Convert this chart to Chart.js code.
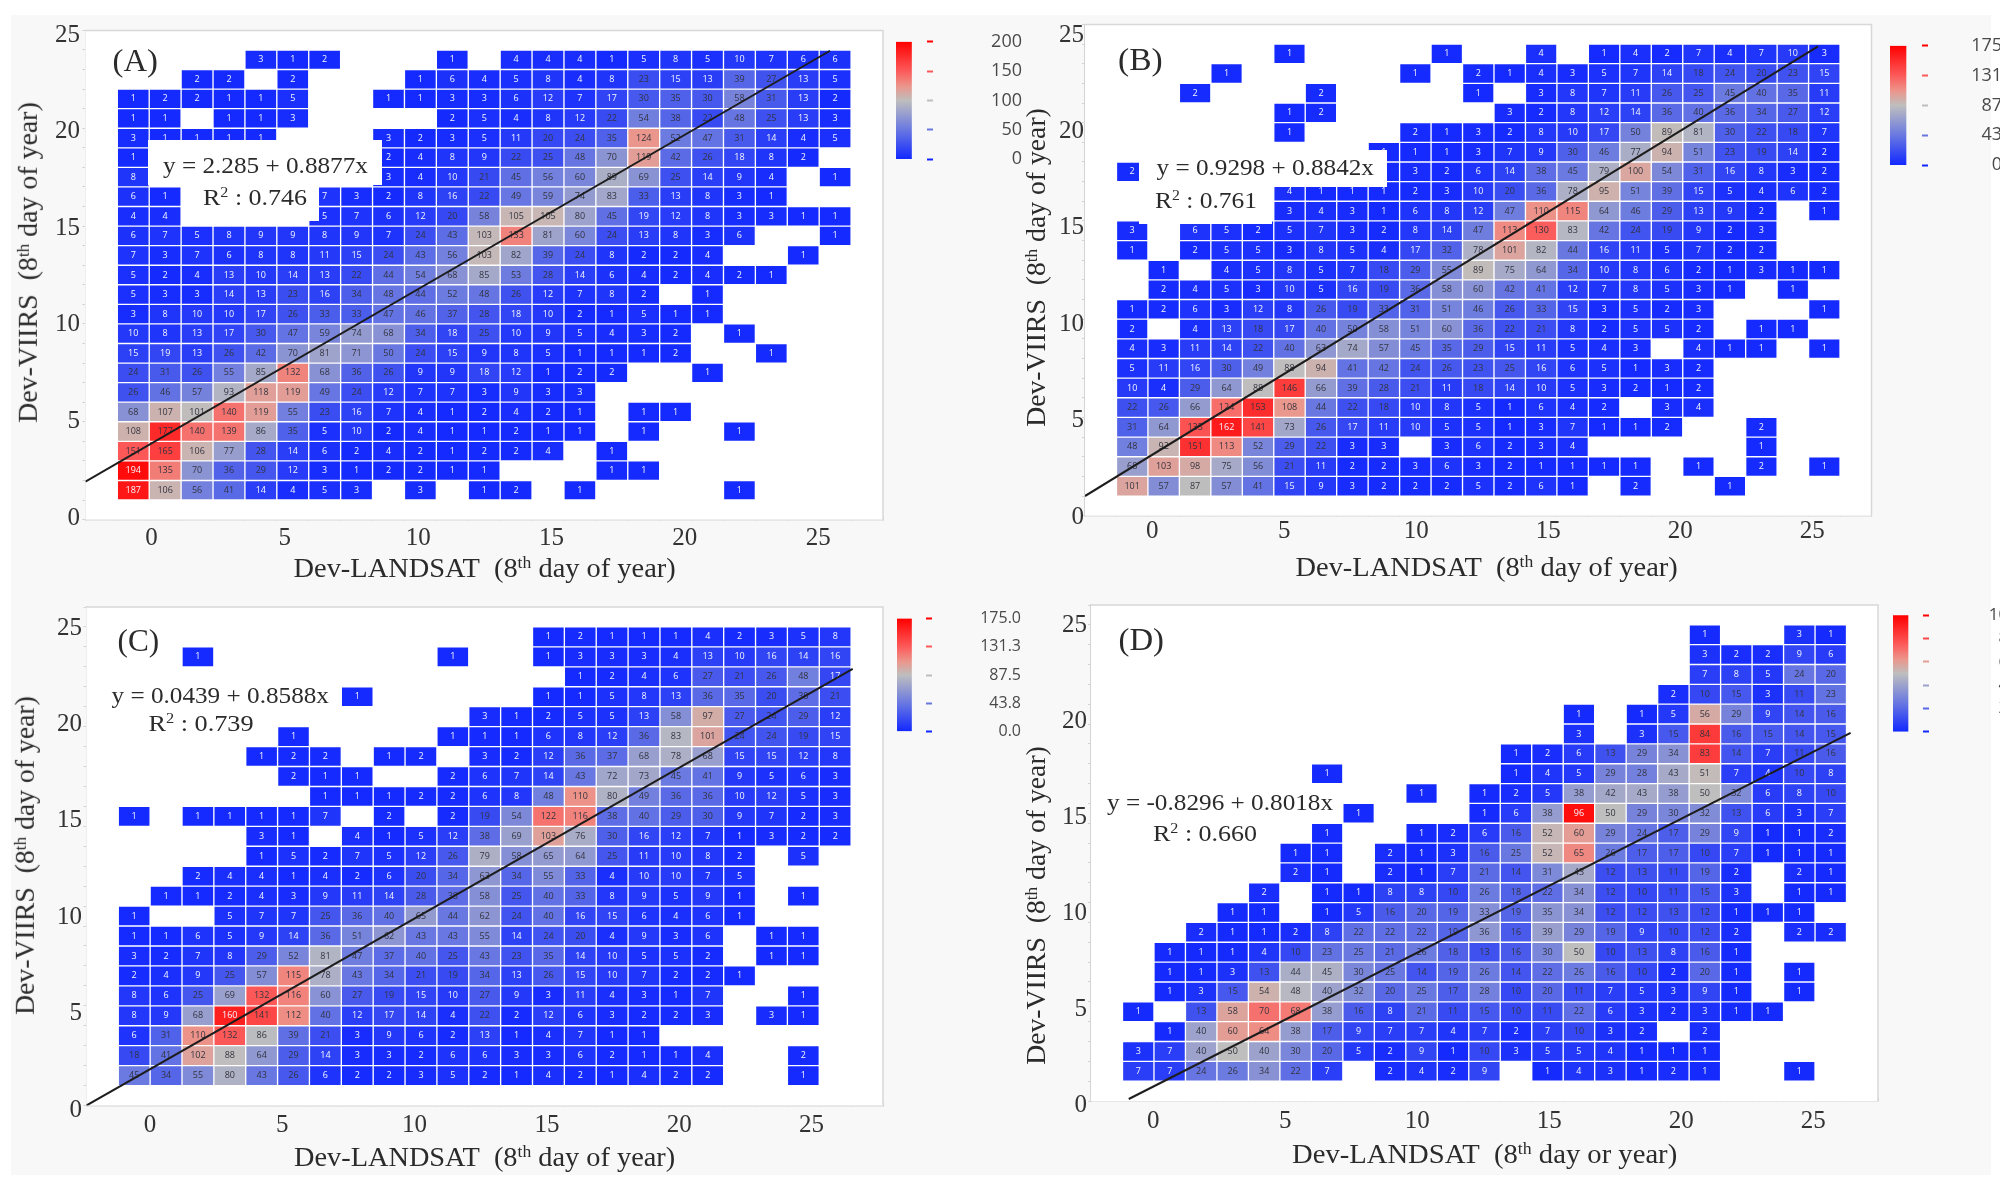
<!DOCTYPE html>
<html><head><meta charset="utf-8">
<script src="https://cdn.jsdelivr.net/npm/chart.js@4"></script>
<style>
html,body{margin:0;padding:0;background:#fff;width:2000px;height:1191px;overflow:hidden}
#page{position:absolute;left:0;top:0;width:2000px;height:1191px;filter:blur(.55px)}
#bg{position:absolute;left:11px;top:15px;width:1980px;height:1160px;background:#f8f8f8}
canvas{position:absolute}
.t{position:absolute;white-space:nowrap;font-family:"Liberation Serif",serif;color:#2b2b2b;line-height:1;transform-origin:center}
.t sup{font-size:.62em;line-height:0;vertical-align:baseline;position:relative;top:-.5em}
.m{position:absolute;background:#fff}
</style></head><body><div id="page"><div id="bg"></div></div>
<script>
// rows run from the top row of the grid (23-24) to the bottom row (1-2); columns from 1-2 to 23-24; 0 = empty cell
const cellsA = [
[0,0,0,0,3,1,2,0,0,0,1,0,4,4,4,1,5,8,5,10,7,6,6],
[0,0,2,2,0,2,0,0,0,1,6,4,5,8,4,8,23,15,13,39,27,13,5],
[1,2,2,1,1,5,0,0,1,1,3,3,6,12,7,17,30,35,30,58,31,13,2],
[1,1,0,1,1,3,0,0,0,0,2,5,4,8,12,22,54,38,22,48,25,13,3],
[3,1,1,1,1,0,0,0,3,2,3,5,11,20,24,35,124,52,47,31,14,4,5],
[1,0,0,0,0,0,0,0,2,4,8,9,22,25,48,70,119,42,26,18,8,2,0],
[8,0,0,0,0,0,0,0,3,4,10,21,45,56,60,89,69,25,14,9,4,0,1],
[6,1,0,0,0,0,7,3,2,8,16,22,49,59,74,83,33,13,8,3,1,0,0],
[4,4,0,0,0,0,5,7,6,12,20,58,105,105,80,45,19,12,8,3,3,1,1],
[6,7,5,8,9,9,8,9,7,24,43,103,133,81,60,24,13,8,3,6,0,0,1],
[7,3,7,6,8,8,11,15,24,43,56,103,82,39,24,8,2,2,4,0,0,1,0],
[5,2,4,13,10,14,13,22,44,54,68,85,53,28,14,6,4,2,4,2,1,0,0],
[5,3,3,14,13,23,16,34,48,44,52,48,26,12,7,8,2,0,1,0,0,0,0],
[3,8,10,10,17,26,33,33,47,46,37,28,18,10,2,1,5,1,1,0,0,0,0],
[10,8,13,17,30,47,59,74,68,34,18,25,10,9,5,4,3,2,0,1,0,0,0],
[15,19,13,26,42,70,81,71,50,24,15,9,8,5,1,1,1,2,0,0,1,0,0],
[24,31,26,55,85,132,68,36,26,9,9,18,12,1,2,2,0,0,1,0,0,0,0],
[26,46,57,93,118,119,49,24,12,7,7,3,9,3,3,0,0,0,0,0,0,0,0],
[68,107,101,140,119,55,23,16,7,4,1,2,4,2,1,0,1,1,0,0,0,0,0],
[108,177,140,139,86,35,5,10,2,4,1,1,2,1,1,0,1,0,0,1,0,0,0],
[151,165,106,77,28,14,6,2,4,2,1,2,2,4,0,1,0,0,0,0,0,0,0],
[194,135,70,36,29,12,3,1,2,2,1,1,0,0,0,1,1,0,0,0,0,0,0],
[187,106,56,41,14,4,5,3,0,3,0,1,2,0,1,0,0,0,0,1,0,0,0]];
const cellsB = [
[0,0,0,0,0,1,0,0,0,0,1,0,0,4,0,1,4,2,7,4,7,10,3],
[0,0,0,1,0,0,0,0,0,1,0,2,1,4,3,5,7,14,18,24,20,23,15],
[0,0,2,0,0,0,2,0,0,0,0,1,0,3,8,7,11,26,25,45,40,35,11],
[0,0,0,0,0,1,2,0,0,0,0,0,3,2,8,12,14,36,40,36,34,27,12],
[0,0,0,0,0,1,0,0,0,2,1,3,2,8,10,17,50,89,81,30,22,18,7],
[0,0,0,0,0,0,0,0,1,1,1,3,7,9,30,46,77,94,51,23,19,14,2],
[2,0,0,0,0,0,0,0,1,3,2,6,14,38,45,79,100,54,31,16,8,3,2],
[0,0,0,0,0,4,1,1,1,2,3,10,20,36,78,95,51,39,15,5,4,6,2],
[0,0,0,0,0,3,4,3,1,6,8,12,47,110,115,64,46,29,13,9,2,0,1],
[3,0,6,5,2,5,7,3,2,8,14,47,113,130,83,42,24,19,9,2,3,0,0],
[1,0,2,5,5,3,8,5,4,17,32,78,101,82,44,16,11,5,7,2,2,0,0],
[0,1,0,4,5,8,5,7,18,29,55,89,75,64,34,10,8,6,2,1,3,1,1],
[0,2,4,5,3,10,5,16,19,36,58,60,42,41,12,7,8,5,3,1,0,1,0],
[1,2,6,3,12,8,26,19,33,31,51,46,26,33,15,3,5,2,3,0,0,0,1],
[2,0,4,13,18,17,40,50,58,51,60,36,22,21,8,2,5,5,2,0,1,1,0],
[4,3,11,14,22,40,63,74,57,45,35,29,15,11,5,4,3,0,4,1,1,0,1],
[5,11,16,30,49,88,94,41,42,24,26,23,25,16,6,5,1,3,2,0,0,0,0],
[10,4,29,64,88,146,66,39,28,21,11,18,14,10,5,3,2,1,2,0,0,0,0],
[22,26,66,124,153,108,44,22,18,10,8,5,1,6,4,2,0,3,4,0,0,0,0],
[31,64,135,162,141,73,26,17,11,10,5,5,1,3,7,1,1,2,0,0,2,0,0],
[48,92,151,113,52,29,22,3,3,0,3,6,2,3,4,0,0,0,0,0,1,0,0],
[68,103,98,75,56,21,11,2,2,3,6,3,2,1,1,1,1,0,1,0,2,0,1],
[101,57,87,57,41,15,9,3,2,2,2,5,2,6,1,0,2,0,0,1,0,0,0]];
const cellsC = [
[0,0,0,0,0,0,0,0,0,0,0,0,0,1,2,1,1,1,4,2,3,5,8],
[0,0,1,0,0,0,0,0,0,0,1,0,0,1,3,3,3,4,13,10,16,14,16],
[0,0,0,0,0,0,0,0,0,0,0,0,0,0,1,2,4,6,27,21,26,48,17],
[0,0,0,0,0,0,0,1,0,0,0,0,0,1,1,5,8,13,36,35,20,38,21],
[0,0,0,0,0,0,0,0,0,0,0,3,1,2,5,5,13,58,97,27,24,29,12],
[0,0,0,0,0,1,0,0,0,0,1,1,1,6,8,12,36,83,101,24,24,19,15],
[0,0,0,0,1,2,2,0,1,2,0,3,2,12,36,37,68,78,68,15,15,12,8],
[0,0,0,0,0,2,1,1,0,0,2,6,7,14,43,72,73,45,41,9,5,6,3],
[0,0,0,0,0,0,1,1,1,2,2,6,8,48,110,80,49,36,36,10,12,5,3],
[1,0,1,1,1,1,7,0,2,0,2,19,54,122,116,38,40,29,30,9,7,2,3],
[0,0,0,0,3,1,0,4,1,5,12,38,69,103,76,30,16,12,7,1,3,2,2],
[0,0,0,0,1,5,2,7,5,12,26,79,58,65,64,25,11,10,8,2,0,5,0],
[0,0,2,4,4,1,4,2,6,20,34,63,34,55,33,4,10,10,7,5,0,0,0],
[0,1,1,2,4,3,9,11,14,28,38,58,25,40,33,8,9,5,9,1,0,1,0],
[1,0,0,5,7,7,25,36,40,65,44,62,24,40,16,15,6,4,6,1,0,0,0],
[1,1,6,5,9,14,36,51,62,43,43,55,14,24,20,4,9,3,6,0,1,1,0],
[3,2,7,8,29,52,81,47,37,40,25,43,23,35,14,10,5,5,2,0,1,1,0],
[2,4,9,25,57,115,78,43,34,21,19,34,13,26,15,10,7,2,2,1,0,0,0],
[8,6,25,69,132,116,60,27,19,15,10,27,9,3,11,4,3,1,7,0,0,1,0],
[8,9,68,160,141,112,40,12,17,14,4,22,2,12,6,3,2,2,3,0,3,1,0],
[6,31,110,132,86,39,21,3,9,6,2,13,1,4,7,1,1,0,0,0,0,0,0],
[18,41,102,88,64,29,14,3,3,2,6,6,3,3,6,2,1,1,4,0,0,2,0],
[45,34,55,80,43,26,6,2,2,3,5,2,1,4,2,1,4,2,2,0,0,1,0]];
const cellsD = [
[0,0,0,0,0,0,0,0,0,0,0,0,0,0,0,0,0,0,1,0,0,3,1],
[0,0,0,0,0,0,0,0,0,0,0,0,0,0,0,0,0,0,3,2,2,9,6],
[0,0,0,0,0,0,0,0,0,0,0,0,0,0,0,0,0,0,7,8,5,24,20],
[0,0,0,0,0,0,0,0,0,0,0,0,0,0,0,0,0,2,10,15,3,11,23],
[0,0,0,0,0,0,0,0,0,0,0,0,0,0,1,0,1,5,56,29,9,14,16],
[0,0,0,0,0,0,0,0,0,0,0,0,0,0,3,0,3,15,84,16,15,14,15],
[0,0,0,0,0,0,0,0,0,0,0,0,1,2,6,13,29,34,83,14,7,11,16],
[0,0,0,0,0,0,1,0,0,0,0,0,1,4,5,29,28,43,51,7,4,10,8],
[0,0,0,0,0,0,0,0,0,1,0,1,2,5,38,42,43,38,50,32,6,8,10],
[0,0,0,0,0,0,0,1,0,0,0,1,6,38,96,50,29,30,32,13,6,3,7],
[0,0,0,0,0,0,1,0,0,1,2,6,16,52,60,29,24,17,29,9,1,1,2],
[0,0,0,0,0,1,1,0,2,1,3,16,25,52,65,26,17,17,10,7,1,1,1],
[0,0,0,0,0,2,1,0,2,1,7,21,14,31,43,12,13,11,19,2,0,2,1],
[0,0,0,0,2,0,1,1,8,8,10,26,18,22,34,12,10,11,15,3,0,1,1],
[0,0,0,1,1,0,1,5,16,20,19,33,19,35,34,12,12,13,12,1,1,1,0],
[0,0,2,1,1,2,8,22,22,22,19,36,16,39,29,19,9,10,12,2,0,2,2],
[0,1,1,1,4,10,23,25,21,26,18,13,16,30,50,10,13,8,16,1,0,0,0],
[0,1,1,3,13,44,45,30,25,14,19,26,14,22,26,16,10,2,20,1,0,1,0],
[0,1,3,15,54,48,40,32,20,25,17,28,10,20,11,7,5,3,9,1,0,1,0],
[1,0,13,58,70,68,38,16,8,21,11,15,10,11,22,6,3,2,3,1,1,0,0],
[0,1,40,60,64,38,17,9,7,7,4,7,2,7,10,3,2,0,2,0,0,0,0],
[3,7,40,50,40,30,20,5,2,9,1,10,3,5,5,4,1,1,1,0,0,0,0],
[7,7,24,26,34,22,7,0,2,4,2,9,0,1,4,3,1,2,1,0,0,1,0]];

const axisTicks = [0,5,10,15,20,25];
const legendValuesA = [0,50,100,150,200];
const legendLabelsA = ['0','50','100','150','200'];
const legendValuesB = [0,43.75,87.5,131.25,175];
const legendLabelsB = ['0,0','43,8','87,5','131,3','175,0'];
const legendLabelsC = ['0.0','43.8','87.5','131.3','175.0'];
const legendValuesD = [0,20,40,60,80,100];
const legendLabelsD = ['0','20','40','60','80','100'];
// fitted lines as they appear in the figure: [x, y] end points
const lineA = [[0,1.94],[23.34,23.96]];
const lineB = [[0,1.0],[23.3,23.88]];
const lineC = [[0,0.0],[24.05,21.9]];
const lineD = [[1.2,0.1],[24.13,18.56]];

const stops = [[0,[18,40,255]],[.25,[105,120,225]],[.5,[190,190,190]],[.62,[235,150,140]],[.75,[252,90,90]],[1,[255,0,0]]];
function heat(t){
  t=Math.max(0,Math.min(1,t));
  for(let i=1;i<stops.length;i++){
    if(t<=stops[i][0]){
      const a=stops[i-1],b=stops[i],k=(t-a[0])/(b[0]-a[0]);
      const c=a[1].map((v,j)=>Math.round(v+(b[1][j]-v)*k));
      return `rgb(${c[0]},${c[1]},${c[2]})`;
    }
  }
  return 'rgb(255,0,0)';
}
const page=document.getElementById('page');
const serif='"Liberation Serif", serif';

const panelFrame={id:'frame',beforeDatasetsDraw(c){
  const a=c.chartArea,g=c.ctx;g.save();g.fillStyle='#fff';g.fillRect(a.left,a.top,a.width,a.height);
  g.strokeStyle='#d8d8d8';g.lineWidth=1.5;
  g.beginPath();g.moveTo(a.left,a.top);g.lineTo(a.right,a.top);g.lineTo(a.right,a.bottom);g.stroke();g.restore();
}};
const cellText={id:'cellText',afterDatasetDraw(c,args){
  if(args.index!==0)return;
  const g=c.ctx,max=c.options.plugins.cellText.max,data=c.data.datasets[0].data;
  g.save();g.font='9px "Open Sans", sans-serif';g.textAlign='center';g.textBaseline='middle';
  args.meta.data.forEach((el,i)=>{
    const v=data[i].v,t=v/max;
    g.fillStyle=(t<.1||t>.9)?'#f4f6ff':'#33343f';
    g.fillText(String(v),el.x,(el.y+el.base)/2);
  });
  g.restore();
}};
function addCanvas(l,t,w,h){
  const c=document.createElement('canvas');c.width=w;c.height=h;
  c.style.left=l+'px';c.style.top=t+'px';c.style.width=w+'px';c.style.height=h+'px';
  page.appendChild(c);return c;
}
function panel(cells,line,max,G){
  const bars=[];
  cells.forEach((row,i)=>{const r=23-i;row.forEach((v,j)=>{if(v)bars.push({x:j+1.5,y:[r,r+1],v});});});
  const xu=(G.tx25-G.tx0)/25,yu=(G.ly0-G.ly25)/25;
  const cv=addCanvas(G.left,G.top,G.w,G.h);
  new Chart(cv,{type:'bar',
    data:{datasets:[
      {type:'bar',data:bars,xAxisID:'x',yAxisID:'y',order:1,barPercentage:1,categoryPercentage:1,
        backgroundColor:bars.map(b=>heat(b.v/max)),borderColor:'rgba(255,255,255,.16)',borderWidth:1,borderSkipped:false},
      {type:'line',data:line.map(p=>({x:p[0],y:p[1]})),xAxisID:'x',yAxisID:'y',order:0,
        borderColor:'#1d1d1d',borderWidth:2,pointRadius:0,tension:0}
    ]},
    options:{responsive:false,animation:false,devicePixelRatio:1,
      layout:{padding:{left:0,top:G.y25-G.top,right:G.left+G.w-G.x25,bottom:G.top+G.h-G.y0-50}},
      plugins:{legend:{display:false},tooltip:{enabled:false},cellText:{max}},
      scales:{
        x:{type:'linear',axis:'x',position:'bottom',weight:0,min:0,max:25,offset:false,
          ticks:{display:false,stepSize:1,autoSkip:false},
          grid:{drawOnChartArea:false,tickLength:-3,tickColor:'#d4d4d4',offset:false},
          border:{color:'#d4d4d4',width:1.5},afterFit:s=>{s.height=0;}},
        y:{type:'linear',axis:'y',position:'left',weight:0,min:0,max:25,
          ticks:{display:false,stepSize:1,autoSkip:false},
          grid:{drawOnChartArea:false,tickLength:3,tickColor:'#d4d4d4'},
          border:{color:'#d4d4d4',width:1.5},afterFit:s=>{s.width=0;}},
        xL:{type:'linear',axis:'x',position:'bottom',weight:1,min:(G.x0-G.tx0)/xu,max:(G.x25-G.tx0)/xu,
          grid:{display:false,drawTicks:false},border:{display:false},
          afterBuildTicks:s=>{s.ticks=axisTicks.map(v=>({value:v}));},
          ticks:{autoSkip:false,maxRotation:0,padding:G.ty-G.y0-14,color:'#333',font:{family:serif,size:25},callback:v=>String(v)},
          afterFit:s=>{s.height=50;}},
        yL:{type:'linear',axis:'y',position:'left',weight:1,min:(G.ly0-G.y0)/yu,max:(G.ly0-G.y25)/yu,
          grid:{display:false,drawTicks:false},border:{display:false},
          afterBuildTicks:s=>{s.ticks=axisTicks.map(v=>({value:v}));},
          ticks:{autoSkip:false,padding:G.x0-G.lr,color:'#333',font:{family:serif,size:25},callback:v=>String(v)},
          afterFit:s=>{s.width=G.x0-G.left;}}
      }},
    plugins:[panelFrame,cellText]});
}
function colorbar(values,labels,max,B){
  const pad=16,sw=95,bw=B.r-B.l;
  const cv=addCanvas(B.l,B.t-pad,bw+sw,B.b-B.t+2*pad);
  new Chart(cv,{type:'bar',
    data:{labels:['scale'],datasets:[{data:[[0,max]],barPercentage:1,categoryPercentage:1,borderWidth:0,
      backgroundColor:ctx=>{
        const a=ctx.chart.chartArea;if(!a)return '#888';
        const gr=ctx.chart.ctx.createLinearGradient(0,a.bottom,0,a.top);
        stops.forEach(s=>gr.addColorStop(s[0],`rgb(${s[1].join(',')})`));return gr;}}]},
    options:{responsive:false,animation:false,devicePixelRatio:1,
      layout:{padding:{top:pad,bottom:pad,left:0,right:0}},
      plugins:{legend:{display:false},tooltip:{enabled:false}},
      scales:{
        x:{display:false,offset:false,grid:{offset:false}},
        y:{position:'right',min:0,max,
          grid:{drawOnChartArea:false,tickLength:6,tickWidth:2,tickColor:ctx=>heat((ctx.tick?ctx.tick.value:0)/max)},
          border:{display:false},
          afterBuildTicks:s=>{s.ticks=values.map(v=>({value:v}));},
          ticks:{autoSkip:false,crossAlign:'far',padding:B.pad,color:'#4a4a4a',font:{family:'"Open Sans", sans-serif',size:B.size},
            callback:(v,i)=>labels[i]},
          afterFit:s=>{s.width=sw;}}
      }}});
}
function text(html,cx,cy,w,size,rot){
  const d=document.createElement('div');d.className='t';d.innerHTML=html;d.style.fontSize=size+'px';
  page.appendChild(d);
  const ow=d.offsetWidth,oh=d.offsetHeight,k=w/ow;
  d.style.left=(cx-ow/2)+'px';d.style.top=(cy-oh/2)+'px';
  d.style.transform=(rot?'rotate(-90deg) ':'')+`scaleX(${k})`;
}
function mask(l,t,r,b){
  const d=document.createElement('div');d.className='m';
  d.style.cssText=`left:${l}px;top:${t}px;width:${r-l}px;height:${b-t}px`;page.appendChild(d);
}

panel(cellsA,lineA,200,{left:0,top:0,w:1000,h:590,x0:85.4,x25:883,y0:519.6,y25:30.4,tx0:85,tx25:885,ty:537,ly0:518,ly25:35,lr:80});
panel(cellsB,lineB,175,{left:1000,top:0,w:1000,h:590,x0:1085,x25:1871.5,y0:515.7,y25:24.4,tx0:1087,tx25:1879,ty:530,ly0:517,ly25:35,lr:1084});
panel(cellsC,lineC,175,{left:0,top:585,w:1000,h:606,x0:86.4,x25:883,y0:1105.5,y25:607,tx0:83,tx25:877,ty:1124,ly0:1110,ly25:628,lr:82});
panel(cellsD,lineD,100,{left:1000,top:585,w:1000,h:606,x0:1091,x25:1878,y0:1101,y25:605,tx0:1087,tx25:1879,ty:1120,ly0:1105,ly25:625,lr:1087});

colorbar(legendValuesA,legendLabelsA,200,{l:896,r:927,t:39,b:162,pad:8,size:18});
colorbar(legendValuesB,legendLabelsB,175,{l:1890,r:1922,t:42,b:169,pad:9,size:18});
colorbar(legendValuesB,legendLabelsC,175,{l:897,r:926,t:618,b:732,pad:7,size:16});
colorbar(legendValuesD,legendLabelsD,100,{l:1893,r:1923,t:611,b:736,pad:10,size:17});

mask(148,140,382,185);mask(185,185,319,221);
mask(1139,150,1387,187);mask(1139,187,1272,224);

const xTitle='Dev-LANDSAT&nbsp; (8<sup>th</sup> day of year)';
const xTitleD='Dev-LANDSAT&nbsp; (8<sup>th</sup> day or year)';
const yTitle='Dev-VIIRS&nbsp; (8<sup>th</sup> day of year)';
text(xTitle,484,568,382,27);text(xTitle,1486,567,382,27);text(xTitle,484.5,1157,381,27);text(xTitleD,1484.5,1154,385,27);
text(yTitle,28,262,321,27,true);text(yTitle,1036,267,319,27,true);text(yTitle,25,855,319,27,true);text(yTitle,1036,905,319,27,true);
text('(A)',134.5,60,45,32);text('(B)',1140,59,45,32);text('(C)',138,640,42,32);text('(D)',1141,639,45,32);
text('y = 2.285 + 0.8877x',265.5,165,205,23);text('R<sup>2</sup> : 0.746',255,197,104,23);
text('y = 0.9298 + 0.8842x',1264.5,167,217,23);text('R<sup>2</sup> : 0.761',1206,200,102,23);
text('y = 0.0439 + 0.8588x',219.5,695,217,23);text('R<sup>2</sup> : 0.739',200.5,723,105,23);
text('y = -0.8296 + 0.8018x',1220,802,226,23);text('R<sup>2</sup> : 0.660',1205,833,104,23);
</script></body></html>
